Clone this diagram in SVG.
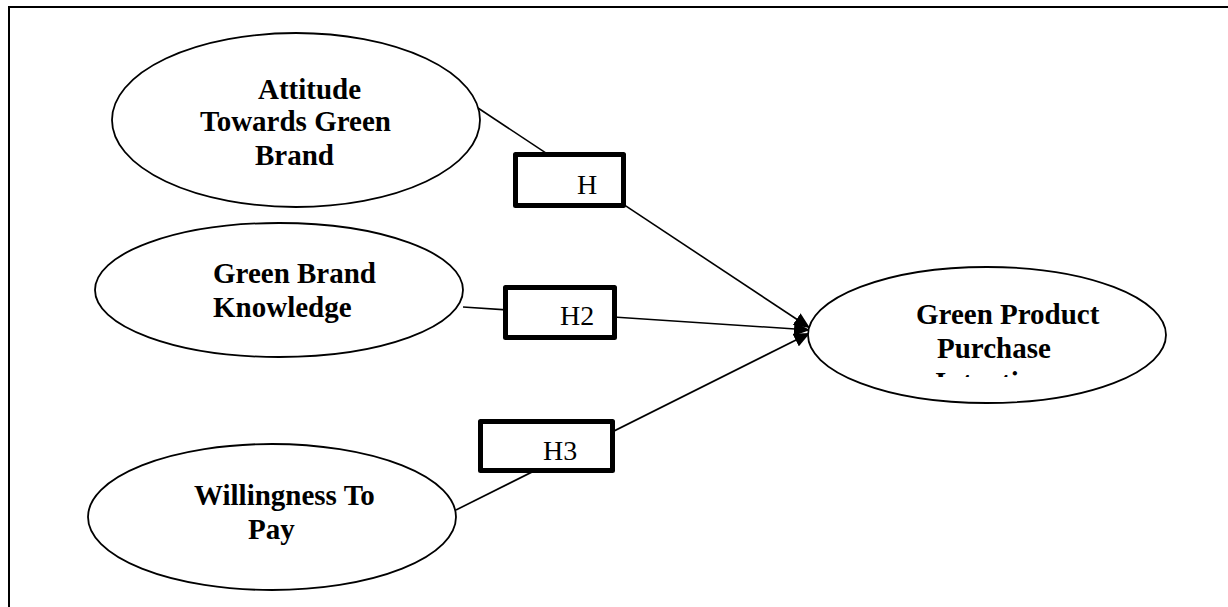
<svg xmlns="http://www.w3.org/2000/svg" width="1228" height="607" viewBox="0 0 1228 607">
<style>
.el{fill:#fff;stroke:#000;stroke-width:1.8}
.lbl{font-family:"Liberation Serif","Times New Roman",serif;font-weight:bold;font-size:29px;fill:#000}
.hb{fill:#fff;stroke:#000;stroke-width:5;stroke-linejoin:round}
.ht{font-family:"Liberation Serif","Times New Roman",serif;font-size:28px;fill:#000}
.cn{stroke:#000;stroke-width:1.6;fill:none}
</style>
<defs>
<marker id="arr" markerUnits="userSpaceOnUse" markerWidth="18" markerHeight="14" refX="16" refY="7" orient="auto">
<path d="M0,0 L16,7 L0,14 Z" fill="#000"/>
</marker>
<clipPath id="clipInt"><rect x="800" y="250" width="400" height="127"/></clipPath>
</defs>
<rect width="1228" height="607" fill="#fff"/>
<path d="M9,607 L9,7 L1228,7" fill="none" stroke="#000" stroke-width="2"/>
<g id="connectors">
<line class="cn" x1="478" y1="108" x2="810" y2="328" marker-end="url(#arr)"/>
<line class="cn" x1="463" y1="307" x2="810" y2="330" marker-end="url(#arr)"/>
<line class="cn" x1="456" y1="510" x2="810" y2="333" marker-end="url(#arr)"/>
</g>
<g id="attitude">
<ellipse class="el" cx="296" cy="120" rx="184" ry="87"/>
<text class="lbl" x="258" y="99">Attitude</text>
<text class="lbl" x="200" y="131">Towards Green</text>
<text class="lbl" x="255" y="165">Brand</text>
</g>
<g id="knowledge">
<ellipse class="el" cx="279" cy="290" rx="184" ry="67"/>
<text class="lbl" x="213" y="283">Green Brand</text>
<text class="lbl" x="213" y="317">Knowledge</text>
</g>
<g id="willingness">
<ellipse class="el" cx="272" cy="517" rx="184" ry="73"/>
<text class="lbl" x="194" y="505">Willingness To</text>
<text class="lbl" x="248" y="539">Pay</text>
</g>
<g id="intention">
<ellipse class="el" cx="987" cy="335" rx="179" ry="68"/>
<text class="lbl" x="916" y="324">Green Product</text>
<text class="lbl" x="937" y="358">Purchase</text>
<text class="lbl" x="935" y="392" clip-path="url(#clipInt)">Intention</text>
</g>
<g id="h1">
<rect class="hb" x="515.5" y="154.5" width="108" height="51"/>
<text class="ht" x="577" y="194">H</text>
</g>
<g id="h2">
<rect class="hb" x="505.5" y="287.5" width="109" height="50"/>
<text class="ht" x="560" y="325">H2</text>
</g>
<g id="h3">
<rect class="hb" x="480.5" y="421.5" width="132" height="49"/>
<text class="ht" x="543" y="460">H3</text>
</g>
</svg>
